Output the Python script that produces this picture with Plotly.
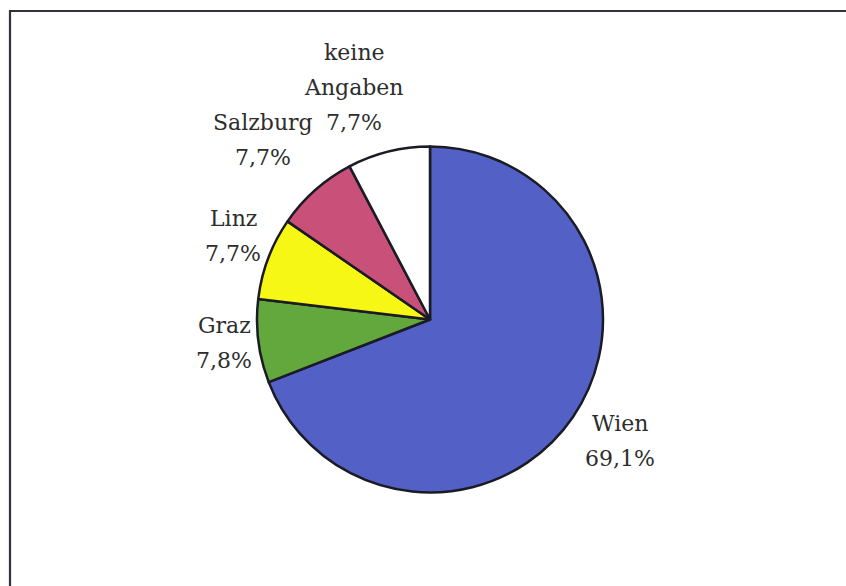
import plotly.graph_objects as go

# Share of respondents by city
labels = ["Wien", "Graz", "Linz", "Salzburg", "keine Angaben"]
values = [69.1, 7.8, 7.7, 7.7, 7.7]
colors = ["#5360c6", "#63a83c", "#f7f715", "#c95079", "#ffffff"]

W, H = 846, 586
cx, cy, r = 430, 319.5, 173  # pie centre and radius in pixels
LINE = 35                      # line pitch of the label text, px

def fmt(v):
    return f"{v:.1f}".replace(".", ",") + "%"

fig = go.Figure(go.Pie(
    labels=labels,
    values=values,
    sort=False,
    direction="clockwise",
    rotation=0,
    textinfo="none",
    hoverinfo="label+percent",
    marker=dict(colors=colors, line=dict(color="#1b1b26", width=2.5)),
    domain=dict(x=[(cx - r) / W, (cx + r) / W],
                y=[(H - cy - r) / H, (H - cy + r) / H]),
    showlegend=False,
))

# label lines per slice and the pixel centre of each text block
label_lines = {
    "Wien": ["Wien", fmt(values[0])],
    "Graz": ["Graz", fmt(values[1])],
    "Linz": ["Linz", fmt(values[2])],
    "Salzburg": ["Salzburg", fmt(values[3])],
    "keine Angaben": ["keine", "Angaben", fmt(values[4])],
}
label_pos = {
    "Wien": (620, 440.5),
    "Graz": (224, 343.5),
    "Linz": (233, 235.5),
    "Salzburg": (263, 140),
    "keine Angaben": (354, 87.5),
}

font = dict(family="DejaVu Serif", size=22, color="#2d2d2d")
annotations = []
for name in labels:
    px, py = label_pos[name]
    lines = label_lines[name]
    n = len(lines)
    for i, line in enumerate(lines):
        ly = py + (i - (n - 1) / 2) * LINE
        annotations.append(dict(
            x=px / W, y=1 - ly / H, xref="paper", yref="paper",
            text=line, showarrow=False, align="center",
            xanchor="center", yanchor="middle", font=font,
        ))

fig.update_layout(
    width=W, height=H,
    margin=dict(l=0, r=0, t=0, b=0),
    paper_bgcolor="white",
    plot_bgcolor="white",
    font=dict(family="DejaVu Serif"),
    annotations=annotations,
    shapes=[dict(type="rect", xref="paper", yref="paper",
                 x0=10 / W, x1=1.02, y0=-0.02, y1=1 - 11 / H,
                 line=dict(color="#35303f", width=2.2))],
)

fig.write_html("out.html")
